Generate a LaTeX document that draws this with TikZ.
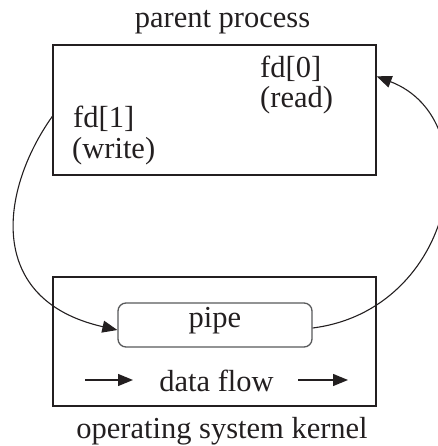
\documentclass[tikz,border=0pt]{standalone}
\usepackage{fontspec}
\setmainfont{Liberation Serif}
\usetikzlibrary{arrows.meta,calc}
\definecolor{ink}{HTML}{231F20}
\definecolor{pipeline}{HTML}{58595B}
\begin{document}
\begin{tikzpicture}[x=1pt,y=1pt,
  font=\fontsize{30.5}{31}\selectfont, text=ink,
  box/.style={draw=ink, line width=1.3pt, minimum width=323pt, inner sep=0pt},
  pipebox/.style={draw=pipeline, line width=1.3pt, rounded corners=8pt,
    minimum width=194pt, minimum height=44pt, inner sep=0pt},
  txt/.style={inner sep=0pt},
  link/.style={draw=ink, line width=1.1pt},
  tip/.style={-{Triangle[length=15pt,width=12pt]}}]
\useasboundingbox (0,0) rectangle (437,446);

% process and kernel frames
\node[box, minimum height=130pt] (parent) at (214.5,336) {};
\node[box, minimum height=129pt] (kernel) at (214.5,104.5) {};
\node[pipebox] (pipe) at (215,121) {};
\node[txt, anchor=base] (pipetext) at (215,118) {pipe};

% captions
\node[txt, anchor=base] (ptitle) at (222.5,418) {parent process};
\node[txt, anchor=base] (ktitle) at (222,8) {operating system kernel};

% file descriptors
\node[txt, anchor=base west] (fdone) at (73,318) {fd[1]};
\node[txt, anchor=base west] (wr) at (72,287) {(write)};
\node[txt, anchor=base west] (fdzero) at (260,368) {fd[0]};
\node[txt, anchor=base west] (rd) at (260,338) {(read)};

% data flow line
\node[txt, anchor=base] (flow) at (216.5,54) {data flow};
\coordinate (fa1) at (85,66);
\coordinate (fb1) at (133,66);
\coordinate (fa2) at (298,66);
\coordinate (fb2) at (348,66);
\draw[link, line width=1.3pt, tip] (fa1) -- (fb1);
\draw[link, line width=1.3pt, tip] (fa2) -- (fb2);

% write end into the pipe
\coordinate (wout) at ($(parent.north west)+(0,-72)$);
\coordinate (win) at ($(pipe.west)+(0,-5)$);
\draw[link, tip] (wout) .. controls (0,256) and (-15,146) .. (win);

% pipe back to the read end
\coordinate (rout) at ($(pipe.east)+(0,-3)$);
\coordinate (rin) at ($(parent.north east)+(0,-32)$);
\draw[link, tip] (rout) .. controls (455,136) and (490,326) .. (rin);
\end{tikzpicture}
\end{document}
